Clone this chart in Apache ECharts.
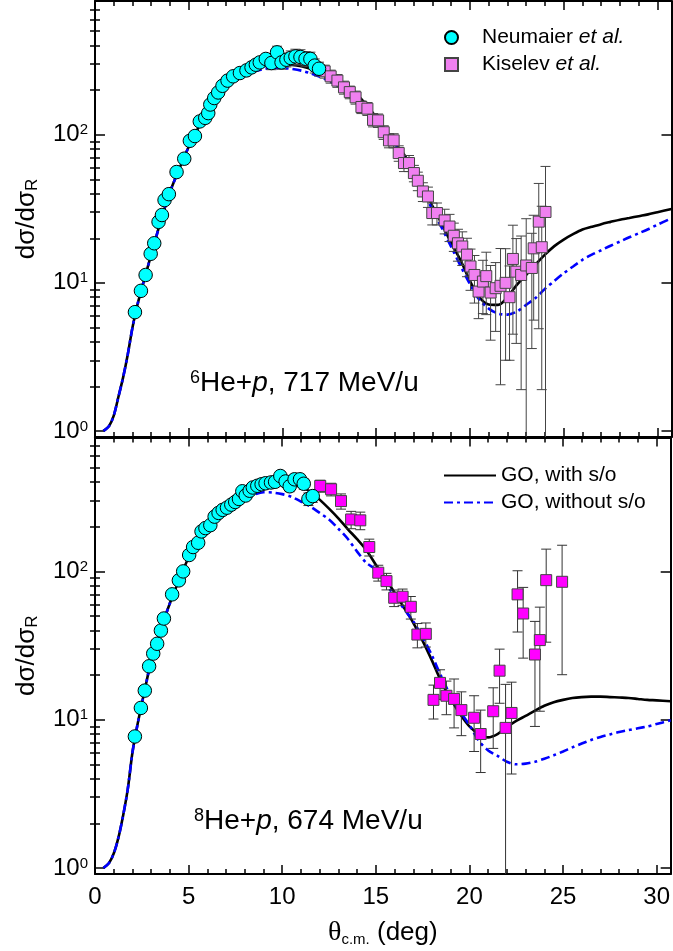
<!DOCTYPE html>
<html>
<head>
<meta charset="utf-8">
<script src="https://cdn.jsdelivr.net/npm/echarts@6/dist/echarts.min.js"></script>
<style>
  html, body { margin: 0; padding: 0; background: #fff; }
  #chart { width: 673px; height: 951px; }
</style>
</head>
<body>
<div id="chart"></div>
<script>
// ---- data (theta in deg, ratio to Rutherford) ----
// 6He + p, 717 MeV/u
const he6NeuTheta = [2.13, 2.45, 2.70, 2.97, 3.16, 3.39, 3.57, 3.71, 3.94, 4.35, 4.76, 5.06, 5.33, 5.59, 5.88, 6.04, 6.15, 6.36, 6.57, 6.80, 7.07, 7.37, 7.73, 8.08, 8.35, 8.58, 8.79, 9.11, 9.41, 9.71, 9.95, 10.21, 10.44, 10.69, 10.96, 11.23, 11.49, 11.72, 11.95];
const he6NeuValue = [6.34, 8.83, 11.3, 15.7, 18.5, 25.8, 28.7, 36.2, 39.7, 56, 68.9, 91, 98, 123, 130, 140, 160, 177, 193, 214, 232, 248, 261, 272, 285, 297, 308, 325, 305, 360, 308, 321, 330, 338, 335, 326, 325, 293, 279];
const he6NeuErr = [0.2, 0.3, 0.4, 0.5, 0.6, 0.8, 0.9, 1.1, 1.2, 1.7, 2.1, 2.7, 3, 3.7, 3.9, 4.2, 4.8, 5.3, 5.8, 6.4, 7, 7.4, 7.8, 8.2, 8.6, 9, 9.2, 10, 30, 36, 31, 34, 38, 40, 40, 38, 36, 32, 30];

const he6KisTheta = [12.25, 12.57, 12.93, 13.28, 13.59, 13.90, 14.21, 14.53, 14.83, 15.10, 15.40, 15.68, 15.93, 16.20, 16.48, 16.75, 17.01, 17.22, 17.49, 17.76, 17.99, 18.24, 18.65, 18.91, 19.14, 19.36, 19.59, 19.84, 20.03, 20.24, 20.46, 20.69, 20.87, 21.10, 21.37, 21.63, 21.90, 22.11, 22.29, 22.47, 22.73, 23.00, 23.30, 23.40, 23.67, 23.83, 24.03];
const he6KisValue = [268, 248, 232, 209, 194, 179, 154, 150, 126, 125, 104, 91.6, 91.6, 75.2, 64.4, 64.4, 55.1, 48.9, 41.4, 38.3, 29.6, 29.6, 26.4, 24.0, 20.8, 18.5, 17.6, 15.5, 12.9, 11.3, 8.73, 10.2, 11.1, 8.6, 9.2, 9.55, 10.0, 8.0, 14.5, 11.9, 11.3, 13.1, 12.6, 17.1, 25.9, 17.4, 30.1];
const he6KisErr = [27, 25, 23, 21, 19, 18, 15, 15, 13, 13, 11, 10, 10, 9, 8, 8, 7, 7, 6, 6, 5, 5, 5, 5, 4.5, 4.5, 4.5, 4.5, 4, 4, 3, 4, 5, 4.5, 4.5, 7.5, 7, 5, 10, 8, 9.4, 14, 9, 11.5, 21, 15.5, 31];

// 8He + p, 674 MeV/u
const he8NeuTheta = [2.13, 2.45, 2.66, 2.89, 3.11, 3.32, 3.52, 3.68, 4.12, 4.48, 4.71, 5.03, 5.24, 5.51, 5.69, 5.90, 6.16, 6.39, 6.60, 6.82, 7.05, 7.28, 7.49, 7.69, 7.87, 8.05, 8.26, 8.43, 8.67, 8.90, 9.11, 9.40, 9.62, 9.90, 10.18, 10.40, 10.66, 10.95, 11.15, 11.40, 11.63];
const he8NeuValue = [7.7, 12, 15.7, 22.9, 27.9, 32.5, 39.9, 48.1, 70, 87, 100, 129, 146, 156, 186, 196, 205, 234, 248, 260, 269, 282, 294, 308, 347, 325, 350, 368, 378, 387, 393, 398, 402, 440, 404, 375, 418, 418, 390, 308, 322];
const he8NeuErr = [0.3, 0.5, 0.6, 0.9, 1.1, 1.3, 1.6, 1.9, 2.8, 3.5, 4, 5, 6, 6, 7, 8, 8, 9, 10, 10, 11, 11, 12, 12, 14, 13, 14, 15, 15, 16, 16, 20, 20, 30, 30, 30, 33, 33, 31, 30, 30];

const he8KisTheta = [12.03, 12.61, 13.14, 13.68, 14.17, 14.65, 15.13, 15.57, 15.98, 16.43, 16.87, 17.22, 17.67, 18.08, 18.43, 18.77, 19.18, 19.57, 20.25, 20.60, 21.27, 21.61, 21.93, 22.25, 22.57, 22.87, 23.50, 23.76, 24.10, 24.95];
const he8KisValue = [377, 358, 298, 224, 221, 146, 98, 86, 66.4, 67.5, 57.7, 37.5, 37.9, 13.6, 17.7, 14.5, 13.8, 11.6, 10.3, 8.0, 11.4, 21.4, 8.8, 11.1, 70, 52, 27.5, 34.4, 87.3, 85.1];
const he8KisErr = [35, 35, 35, 30, 30, 19, 12, 11, 8.5, 8.5, 10, 7, 7, 3.5, 4, 3.7, 5, 3.8, 4.2, 3.6, 5, 8.5, 8.5, 6.8, 31, 26, 18.5, 23, 54, 65];

// Glauber (GO) curves, sampled at the same angles
const curveTheta = [0.45, 0.75, 1.0, 1.25, 1.5, 1.75, 2.0, 2.25, 2.5, 2.75, 3.0, 3.5, 4.0, 4.5, 5.0, 5.5, 6.0, 6.5, 7.0, 7.5, 8.0, 8.5, 9.0, 9.5, 10.0, 10.5, 11.0, 11.5, 12.0, 12.5, 13.0, 13.5, 14.0, 14.5, 15.0, 15.5, 16.0, 16.5, 17.0, 17.5, 18.0, 18.5, 19.0, 19.5, 20.0, 20.5, 21.0, 21.5, 22.0, 22.5, 23.0, 23.5, 24.0, 24.5, 25.0, 25.5, 26.0, 26.5, 27.0, 27.5, 28.0, 28.5, 29.0, 29.5, 30.0, 30.75];
const he6WithSO = [1.0, 1.08, 1.27, 1.7, 2.3, 3.3, 5.0, 7.0, 9.2, 12, 15.5, 26, 41, 59, 83, 111, 141, 174, 206, 234, 257, 276, 290, 298, 300, 297, 290, 279, 264, 246, 226, 206, 185, 158, 131, 107, 88, 73, 57, 44, 33, 25, 18.5, 14.2, 10.3, 8.0, 7.15, 7.1, 8.0, 9.7, 11.3, 13.3, 15.5, 17.7, 19.6, 21.3, 22.9, 23.9, 24.9, 25.8, 26.7, 27.4, 28.2, 29.0, 30.0, 31.5];
const he6NoSO = [1.0, 1.08, 1.27, 1.7, 2.3, 3.3, 5.0, 7.0, 9.2, 12, 15.5, 26, 41, 59, 83, 111, 141, 174, 205, 232, 252, 268, 278, 282, 282, 278, 271, 260, 246, 230, 212, 193, 172, 150, 125, 103, 85, 70, 55, 42, 31, 23.5, 17.5, 13, 9.8, 7.7, 6.7, 6.2, 6.1, 6.4, 7.1, 7.9, 9.1, 10.3, 11.6, 12.9, 14.3, 15.5, 16.6, 17.8, 19.0, 20.3, 21.6, 23.0, 24.7, 27.3];
const he8WithSO = [1.0, 1.08, 1.25, 1.6, 2.25, 3.4, 6.0, 9.0, 12.8, 18, 25, 40, 61, 88, 124, 160, 198, 235, 266, 292, 318, 345, 372, 390, 395, 387, 370, 345, 305, 265, 228, 193, 165, 139, 111, 90, 72, 57, 45, 34, 25, 18, 13.8, 10.9, 9.0, 8.0, 7.6, 8.0, 8.9, 9.8, 10.6, 11.5, 12.4, 13.1, 13.6, 14.0, 14.2, 14.3, 14.3, 14.2, 14.1, 14.0, 13.8, 13.6, 13.5, 13.3];
const he8NoSO = [1.0, 1.08, 1.25, 1.6, 2.25, 3.4, 6.0, 9.0, 12.8, 18, 25, 40, 61, 88, 124, 160, 198, 235, 265, 288, 310, 330, 342, 340, 332, 318, 296, 274, 248, 224, 194, 166, 136, 114, 103, 84, 68, 56, 46, 36, 27, 19.5, 14.5, 11.4, 9.2, 7.2, 6.2, 5.7, 5.2, 5.0, 5.05, 5.2, 5.45, 5.75, 6.1, 6.5, 6.9, 7.3, 7.65, 7.95, 8.25, 8.5, 8.75, 9.0, 9.35, 9.9];

// axis ticks
const xMajorTicks = [0, 5, 10, 15, 20, 25, 30];
const xMinorTicks = [1, 2, 3, 4, 6, 7, 8, 9, 11, 12, 13, 14, 16, 17, 18, 19, 21, 22, 23, 24, 26, 27, 28, 29];
const yMajorTicks = [1, 10, 100];
const yMinorTicks = [2, 3, 4, 5, 6, 7, 8, 9, 20, 30, 40, 50, 60, 70, 80, 90, 200, 300, 400, 500, 600, 700];

const X_MIN = 0, X_MAX = 30.75, Y_MIN = 0.91, Y_MAX = 800;
const FONT = 'Liberation Sans';

const zip = (xs, ys) => xs.map((x, i) => [x, ys[i]]);
const errData = (xs, ys, es) => xs.map((x, i) => [x, ys[i] - es[i], ys[i] + es[i]]);

function renderErr(params, api) {
  const cs = params.coordSys;
  const x = api.value(0), lo = api.value(1), hi = api.value(2);
  const pTop = api.coord([x, hi]);
  const yBot = lo > Y_MIN ? api.coord([x, lo])[1] : cs.y + cs.height + 5;
  const cap = 5;
  const style = { stroke: api.visual('color'), lineWidth: 1 };
  return {
    type: 'group',
    children: [
      { type: 'line', shape: { x1: pTop[0], y1: pTop[1], x2: pTop[0], y2: yBot }, style },
      { type: 'line', shape: { x1: pTop[0] - cap, y1: pTop[1], x2: pTop[0] + cap, y2: pTop[1] }, style },
      { type: 'line', shape: { x1: pTop[0] - cap, y1: yBot, x2: pTop[0] + cap, y2: yBot }, style }
    ]
  };
}

const axisLine = { show: true, onZero: false, lineStyle: { color: '#000', width: 2 } };

function xAxes(grid, withLabels) {
  const base = { type: 'value', gridIndex: grid, min: X_MIN, max: X_MAX, splitLine: { show: false } };
  const res = [];
  ['bottom', 'top'].forEach(pos => {
    res.push(Object.assign({}, base, {
      position: pos,
      axisLine: axisLine,
      axisTick: { inside: true, length: 9, customValues: xMajorTicks, lineStyle: { width: 1.5, color: '#000' } },
      axisLabel: {
        show: withLabels && pos === 'bottom', customValues: xMajorTicks, margin: 11,
        fontSize: 24, fontFamily: FONT, color: '#000'
      },
      name: withLabels && pos === 'bottom' ? '{t|θ}{sub|c.m.}{n| (deg)}' : '',
      nameLocation: 'middle',
      nameGap: 44,
      nameTextStyle: {
        rich: {
          t: { fontFamily: 'Liberation Serif', fontSize: 28, color: '#000' },
          sub: { fontFamily: FONT, fontSize: 15, color: '#000', verticalAlign: 'bottom', padding: [14, 0, 0, 0] },
          n: { fontFamily: FONT, fontSize: 26, color: '#000' }
        }
      }
    }));
    res.push(Object.assign({}, base, {
      position: pos,
      axisLine: { show: false },
      axisTick: { inside: true, length: 5, customValues: xMinorTicks, lineStyle: { width: 1.5, color: '#000' } },
      axisLabel: { show: false }
    }));
  });
  return res;
}

function yAxes(grid) {
  const base = { type: 'log', gridIndex: grid, min: Y_MIN, max: Y_MAX, logBase: 10, splitLine: { show: false } };
  const res = [];
  ['left', 'right'].forEach(pos => {
    res.push(Object.assign({}, base, {
      position: pos,
      axisLine: axisLine,
      axisTick: { inside: true, length: 10, customValues: yMajorTicks, lineStyle: { width: 1.5, color: '#000' } },
      axisLabel: {
        show: pos === 'left', customValues: yMajorTicks, margin: 7,
        formatter: v => '{b|10}{s|' + Math.round(Math.log10(v)) + '}',
        rich: {
          b: { fontSize: 24, fontFamily: FONT, color: '#000' },
          s: { fontSize: 15, fontFamily: FONT, color: '#000', verticalAlign: 'top' }
        }
      },
      name: pos === 'left' ? 'dσ/dσ{sub|R}' : '',
      nameLocation: 'middle',
      nameRotate: 90,
      nameGap: 54,
      nameTextStyle: {
        fontFamily: FONT, fontSize: 26, color: '#000',
        rich: { sub: { fontFamily: FONT, fontSize: 17, color: '#000', verticalAlign: 'bottom', padding: [12, 0, 0, 0] } }
      }
    }));
    res.push(Object.assign({}, base, {
      position: pos,
      axisLine: { show: false },
      axisTick: { inside: true, length: 5, customValues: yMinorTicks, lineStyle: { width: 1.5, color: '#000' } },
      axisLabel: { show: false }
    }));
  });
  return res;
}

function panelSeries(grid, neuT, neuV, neuE, kisT, kisV, kisE, withSO, noSO, kisColor, errColor) {
  const xi = grid * 4, yi = grid * 4;
  return [
    {
      name: 'GO, with s/o', type: 'line', xAxisIndex: xi, yAxisIndex: yi,
      data: zip(curveTheta, withSO), symbol: 'none', smooth: 0.3, z: 2,
      lineStyle: { color: '#000', width: 2.6 }, itemStyle: { color: '#000' }
    },
    {
      name: 'GO, without s/o', type: 'line', xAxisIndex: xi, yAxisIndex: yi,
      data: zip(curveTheta, noSO), symbol: 'none', smooth: 0.3, z: 2,
      lineStyle: { color: '#0000ff', width: 2.6, type: [9, 4, 3, 4] }, itemStyle: { color: '#0000ff' }
    },
    {
      name: 'errNeu' + grid, type: 'custom', xAxisIndex: xi, yAxisIndex: yi, clip: true, z: 3,
      renderItem: renderErr, data: errData(neuT, neuV, neuE), itemStyle: { color: errColor }
    },
    {
      name: 'errKis' + grid, type: 'custom', xAxisIndex: xi, yAxisIndex: yi, clip: true, z: 3,
      renderItem: renderErr, data: errData(kisT, kisV, kisE), itemStyle: { color: errColor }
    },
    {
      name: 'Kiselev et al.', type: 'scatter', xAxisIndex: xi, yAxisIndex: yi,
      data: zip(kisT, kisV), symbol: 'rect', symbolSize: 11, z: 4,
      itemStyle: { color: kisColor, borderColor: '#444', borderWidth: 1, opacity: 1 }
    },
    {
      name: 'Neumaier et al.', type: 'scatter', xAxisIndex: xi, yAxisIndex: yi,
      data: zip(neuT, neuV), symbol: 'circle', symbolSize: 13.5, z: 5,
      itemStyle: { color: '#00ffff', borderColor: '#000', borderWidth: 1, opacity: 1 }
    }
  ];
}

const chart = echarts.init(document.getElementById('chart'));
const legendRich = {
  i: { fontSize: 21, fontFamily: FONT, fontStyle: 'italic', color: '#000' },
  sp: { width: 19 }
};
const legendText = { fontSize: 21, fontFamily: FONT, color: '#000', rich: legendRich };

const annRich = {
  sup: { fontSize: 18, fontFamily: FONT, fill: '#000', verticalAlign: 'top' },
  n: { fontSize: 28, fontFamily: FONT, fill: '#000' },
  i: { fontSize: 28, fontFamily: FONT, fill: '#000', fontStyle: 'italic' }
};

const option = {
  animation: false,
  backgroundColor: '#fff',
  grid: [
    { left: 95, right: 1.5, top: 1, height: 436 },
    { left: 95, right: 1.5, top: 437.5, height: 436.5 }
  ],
  xAxis: xAxes(0, false).concat(xAxes(1, true)),
  yAxis: yAxes(0).concat(yAxes(1)),
  legend: [
    {
      data: ['Neumaier et al.', 'Kiselev et al.'],
      orient: 'vertical', left: 444, top: 27, padding: 0,
      itemWidth: 13, itemHeight: 13, itemGap: 6,
      selectedMode: false, textStyle: legendText,
      formatter: n => '{sp| }' + n.replace(' et al.', ' {i|et al.}')
    },
    {
      data: ['GO, with s/o', 'GO, without s/o'],
      orient: 'vertical', left: 443, top: 465, padding: 0,
      itemWidth: 52, itemHeight: 14, itemGap: 6,
      itemStyle: { opacity: 0 },
      selectedMode: false, textStyle: legendText
    }
  ],
  graphic: [
    {
      type: 'text', left: 190, top: 369, z: 10,
      style: { text: '{sup|6}{n|He+}{i|p}{n|, 717 MeV/u}', rich: annRich }
    },
    {
      type: 'text', left: 194, top: 807, z: 10,
      style: { text: '{sup|8}{n|He+}{i|p}{n|, 674 MeV/u}', rich: annRich }
    }
  ],
  series: panelSeries(0, he6NeuTheta, he6NeuValue, he6NeuErr, he6KisTheta, he6KisValue, he6KisErr, he6WithSO, he6NoSO, '#f080f0', '#444')
    .concat(panelSeries(1, he8NeuTheta, he8NeuValue, he8NeuErr, he8KisTheta, he8KisValue, he8KisErr, he8WithSO, he8NoSO, '#ff00ff', '#333'))
};

chart.setOption(option);
</script>
</body>
</html>
